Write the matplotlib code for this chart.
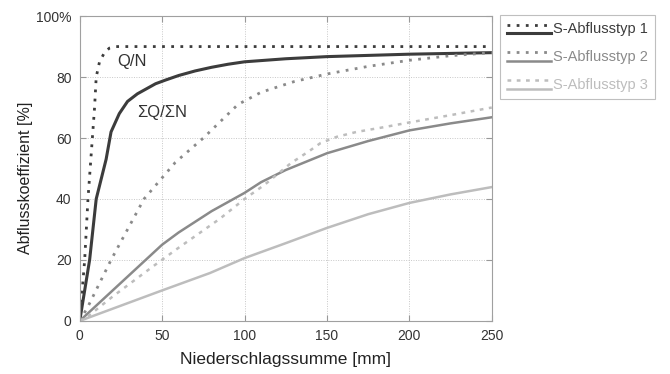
import matplotlib
matplotlib.use("Agg")
import matplotlib.pyplot as plt
from matplotlib.lines import Line2D
from matplotlib.legend_handler import HandlerBase

plt.rcParams["font.family"] = ["Liberation Sans", "DejaVu Sans"]

# Niederschlagssumme [mm] / Abflusskoeffizient [%]
typ1_qn_x = [0, 3, 5, 7, 9, 10, 12, 15, 18, 22, 250]
typ1_qn_y = [0, 20, 40, 55, 70, 80, 85, 88, 89.5, 90, 90]
typ1_sum_x = [0, 6, 10, 16, 19, 24, 29, 35, 40, 46, 52, 60, 70, 80, 90, 100, 125, 150, 200, 250]
typ1_sum_y = [0, 20, 40, 53, 62, 68, 72, 74.5, 76, 77.8, 79, 80.5, 82, 83.2, 84.2, 85, 86, 86.7, 87.5, 88]

typ2_qn_x = [0, 5, 19, 39, 58, 75, 96, 110, 130, 150, 175, 200, 225, 250]
typ2_qn_y = [0, 4.7, 20, 40, 52, 60, 71, 75, 78.5, 81, 83.5, 85.5, 87, 88]
typ2_sum_x = [0, 20, 40, 50, 60, 80, 100, 110, 125, 150, 175, 200, 225, 250]
typ2_sum_y = [0, 10, 20, 25, 29, 36, 42, 45.5, 49.5, 55, 59, 62.5, 64.8, 66.8]

typ3_qn_x = [0, 5, 20, 44, 60, 85, 100, 112, 128, 140, 146, 156, 168, 184, 200, 225, 250]
typ3_qn_y = [0, 1.5, 8, 17.7, 24, 33.5, 40, 44.6, 51.7, 56, 58.3, 60.4, 62, 63.5, 65.1, 67.5, 70]
typ3_sum_x = [0, 25, 50, 79, 100, 125, 150, 175, 200, 225, 250]
typ3_sum_y = [0, 5, 10, 15.7, 20.6, 25.5, 30.5, 35, 38.7, 41.5, 43.9]

x_ticks = [0, 50, 100, 150, 200, 250]
y_ticks = [0, 20, 40, 60, 80, 100]
y_tick_labels = ["0", "20", "40", "60", "80", "100%"]
legend_labels = ["S-Abflusstyp 1", "S-Abflusstyp 2", "S-Abflusstyp 3"]

c1, c2, c3 = "#3c3c3c", "#8a8a8a", "#bdbdbd"
dot_style = (0, (1, 2.3))
dash_style = (0, (1.5, 2.2))

fig = plt.figure(figsize=(6.7, 3.74), dpi=100)
ax = fig.add_axes([0.119, 0.142, 0.615, 0.815])

dot1 = ax.plot(typ1_qn_x, typ1_qn_y, color=c1, lw=2.0, ls=dot_style)[0]
sol1 = ax.plot(typ1_sum_x, typ1_sum_y, color=c1, lw=2.2)[0]
dot2 = ax.plot(typ2_qn_x, typ2_qn_y, color=c2, lw=2.0, ls=dot_style)[0]
sol2 = ax.plot(typ2_sum_x, typ2_sum_y, color=c2, lw=1.8)[0]
dot3 = ax.plot(typ3_qn_x, typ3_qn_y, color=c3, lw=1.8, ls=dash_style)[0]
sol3 = ax.plot(typ3_sum_x, typ3_sum_y, color=c3, lw=1.8)[0]

ax.set_xlim(0, 250)
ax.set_ylim(0, 100)
ax.set_xticks(x_ticks)
ax.set_yticks(y_ticks)
ax.set_yticklabels(y_tick_labels)
ax.tick_params(direction="in", length=4, color="#999999", labelcolor="#333333",
               labelsize=10, top=True, right=True, pad=6)
for s in ax.spines.values():
    s.set_color("#a0a0a0")
    s.set_linewidth(0.8)
ax.grid(True, color="#c8c8c8", ls=(0, (1, 1.5)), lw=0.7)
ax.set_axisbelow(True)

ax.set_xlabel("Niederschlagssumme [mm]", fontsize=12.5, color="#222222", labelpad=6)
ax.set_ylabel("Abflusskoeffizient [%]", fontsize=11.5, color="#222222")
ax.yaxis.set_label_coords(-0.114, 0.47)

ax.text(22.5, 85, "Q/N", fontsize=12, color="#333333", va="center", ha="left")
ax.text(35, 68.5, "ΣQ/ΣN", fontsize=12, color="#333333", va="center", ha="left")


class StackedHandler(HandlerBase):
    """Legend key with the patterned line drawn above the solid line."""

    def __init__(self, patterned_style):
        super().__init__()
        self.patterned_style = patterned_style

    def create_artists(self, legend, orig_handle, xdescent, ydescent,
                       width, height, fontsize, trans):
        patterned, solid = orig_handle
        y_top = height * 0.85
        y_bot = height * 0.0
        a = Line2D([0, width], [y_top, y_top], color=patterned.get_color(),
                   lw=patterned.get_linewidth(),
                   ls=self.patterned_style[orig_handle], transform=trans)
        b = Line2D([0, width], [y_bot, y_bot], color=solid.get_color(),
                   lw=solid.get_linewidth(), transform=trans)
        return [a, b]


handles = [(dot1, sol1), (dot2, sol2), (dot3, sol3)]
styles = {handles[0]: dot_style, handles[1]: dot_style, handles[2]: dash_style}
leg = fig.legend(handles, legend_labels, handler_map={tuple: StackedHandler(styles)},
                 loc="upper left", bbox_to_anchor=(0.746, 0.96),
                 fontsize=10.5, frameon=True, fancybox=False,
                 handlelength=3.0, handletextpad=0.15, labelspacing=0.95,
                 borderpad=0.5, borderaxespad=0.0)
leg.get_frame().set_edgecolor("#b0b0b0")
leg.get_frame().set_linewidth(0.8)
for txt, col in zip(leg.get_texts(), [c1, c2, c3]):
    txt.set_color(col)

fig.savefig("out.png", dpi=100)
